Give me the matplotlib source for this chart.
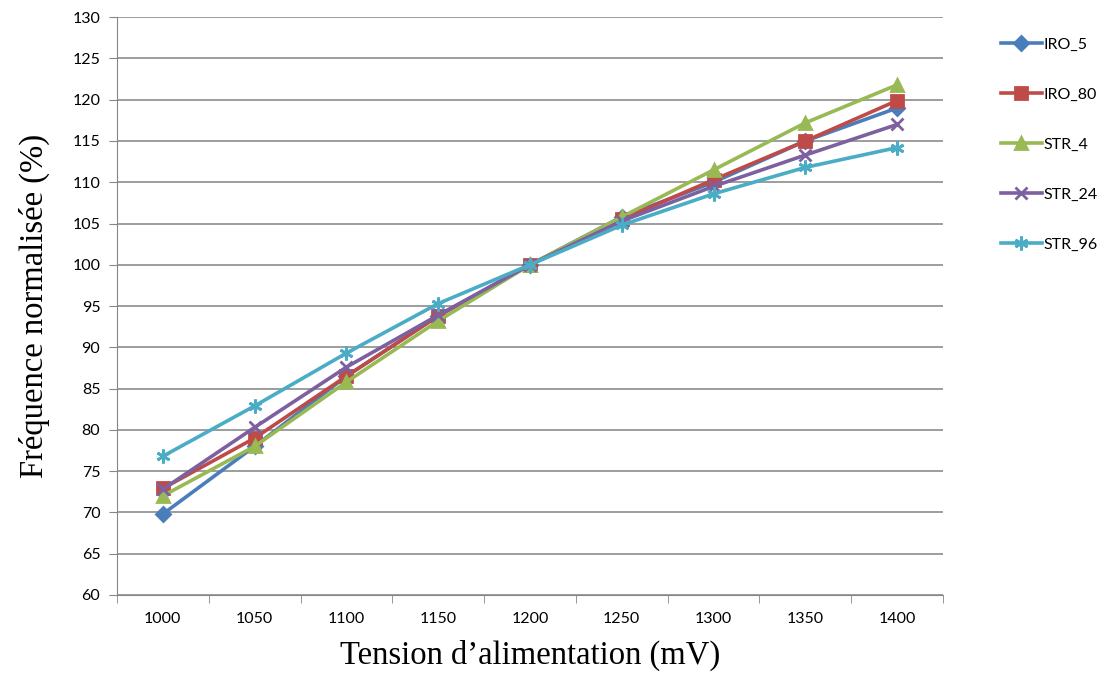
import numpy as np
import matplotlib
matplotlib.use("Agg")
import matplotlib.pyplot as plt

# --- Données -----------------------------------------------------------
tensions = ["1000", "1050", "1100", "1150", "1200", "1250", "1300", "1350", "1400"]
iro_5  = [69.8, 78.0, 86.5, 93.8, 100.0, 105.8, 110.0, 115.0, 119.0]
iro_80 = [72.9, 79.0, 86.5, 93.8, 100.0, 105.5, 110.3, 115.0, 119.9]
str_4  = [72.0, 78.0, 85.8, 93.2, 100.0, 105.8, 111.5, 117.2, 121.8]
str_24 = [72.8, 80.3, 87.6, 93.9, 100.0, 105.3, 109.5, 113.3, 117.0]
str_96 = [76.8, 82.9, 89.3, 95.3, 100.0, 104.8, 108.6, 111.8, 114.2]

series = [
    ("IRO_5",  iro_5,  "#4A7EBB", "D", 7),
    ("IRO_80", iro_80, "#BE4B48", "s", 8),
    ("STR_4",  str_4,  "#98B954", "^", 9),
    ("STR_24", str_24, "#7D60A0", "x", 9),
    ("STR_96", str_96, "#4BACC6", (6, 2, 0), 10),
]

fig = plt.figure(figsize=(11.03, 6.87), dpi=100)
ax = fig.add_axes([0.106, 0.134, 0.749, 0.841])

x = np.arange(len(tensions))
for nom, vals, col, mk, ms in series:
    ax.plot(x, vals, color=col, lw=2.6, marker=mk, ms=ms,
            mec=col, mfc=col, mew=2, label=nom)

ax.set_xlim(-0.5, len(tensions) - 0.5)
ax.set_ylim(60, 130)
ax.set_yticks(np.arange(60, 131, 5))
ax.set_xticks(x)
ax.set_xticklabels(tensions)
ax.set_xticks(np.arange(-0.5, len(tensions)), minor=True)
ax.tick_params(axis="x", which="major", length=0, pad=12)
ax.tick_params(axis="x", which="minor", length=6, color="#868686")
ax.tick_params(axis="y", length=6, color="#868686", pad=6)
for lab in ax.get_xticklabels() + ax.get_yticklabels():
    lab.set_fontfamily("Lato")
    lab.set_fontsize(11.5)

ax.grid(axis="y", color="#8c8c8c", lw=1.2)
ax.set_axisbelow(True)
for s in ["top", "right"]:
    ax.spines[s].set_visible(False)
ax.spines["left"].set_color("#868686")
ax.spines["bottom"].set_color("#868686")

ax.set_xlabel("Tension d\u2019alimentation (mV)", family="Liberation Serif",
              fontsize=23.5, labelpad=10)
ax.set_ylabel("Fréquence normalisée (%)", family="Liberation Serif",
              fontsize=23.5, labelpad=16)

leg = ax.legend(loc="upper left", bbox_to_anchor=(1.062, 0.976), frameon=False,
                borderaxespad=0, labelspacing=2.25, handlelength=2.6,
                handletextpad=0.1, prop={"family": "Lato", "size": 11.5})

fig.savefig("out.png", dpi=100)
